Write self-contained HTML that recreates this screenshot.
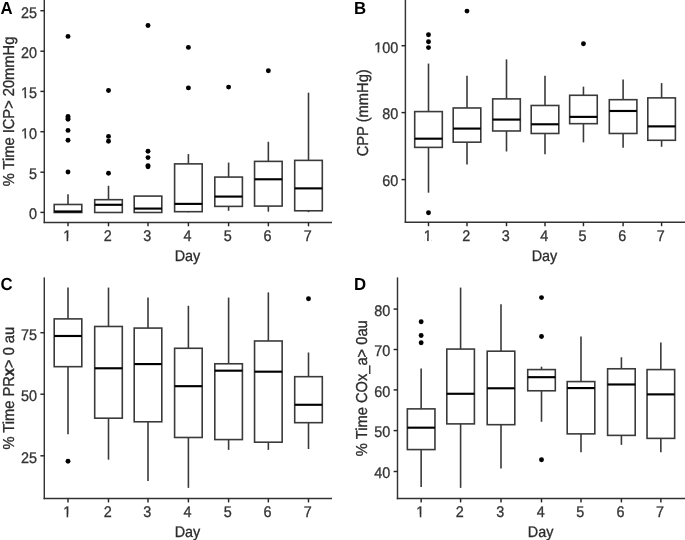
<!DOCTYPE html>
<html><head><meta charset="utf-8"><title>Boxplots</title>
<style>
html,body{margin:0;padding:0;background:#fff;}
body{width:685px;height:540px;overflow:hidden;}
svg{display:block;font-family:"Liberation Sans",sans-serif;text-rendering:geometricPrecision;}
svg{filter:grayscale(1);}
text{stroke-width:0.3px;paint-order:stroke;}
</style></head>
<body>
<svg width="685" height="540" viewBox="0 0 685 540">
<rect width="685" height="540" fill="#fff"/>
<line x1="68" y1="194.18" x2="68" y2="204.48" stroke="#3a3a3a" stroke-width="1.6"/>
<rect x="54.2" y="204.48" width="27.6" height="8" fill="#fff" stroke="#3a3a3a" stroke-width="1.6"/>
<line x1="54.2" y1="211.48" x2="81.8" y2="211.48" stroke="#000" stroke-width="2.15"/>
<circle cx="68" cy="36.38" r="2.45" fill="#000"/>
<circle cx="68" cy="116.48" r="2.45" fill="#000"/>
<circle cx="68" cy="117.88" r="2.45" fill="#000"/>
<circle cx="68" cy="119.18" r="2.45" fill="#000"/>
<circle cx="68" cy="130.38" r="2.45" fill="#000"/>
<circle cx="68" cy="140.28" r="2.45" fill="#000"/>
<circle cx="68" cy="171.98" r="2.45" fill="#000"/>
<line x1="108.5" y1="185.78" x2="108.5" y2="199.68" stroke="#3a3a3a" stroke-width="1.6"/>
<rect x="94.7" y="199.68" width="27.6" height="12.8" fill="#fff" stroke="#3a3a3a" stroke-width="1.6"/>
<line x1="94.7" y1="204.78" x2="122.3" y2="204.78" stroke="#000" stroke-width="2.15"/>
<circle cx="108.5" cy="90.48" r="2.45" fill="#000"/>
<circle cx="108.5" cy="136.38" r="2.45" fill="#000"/>
<circle cx="108.5" cy="141.18" r="2.45" fill="#000"/>
<circle cx="108.5" cy="173.18" r="2.45" fill="#000"/>
<rect x="134.2" y="196.08" width="27.6" height="16.4" fill="#fff" stroke="#3a3a3a" stroke-width="1.6"/>
<line x1="134.2" y1="208.58" x2="161.8" y2="208.58" stroke="#000" stroke-width="2.15"/>
<circle cx="148" cy="25.48" r="2.45" fill="#000"/>
<circle cx="148" cy="151.28" r="2.45" fill="#000"/>
<circle cx="148" cy="157.58" r="2.45" fill="#000"/>
<circle cx="148" cy="165.58" r="2.45" fill="#000"/>
<circle cx="148" cy="166.68" r="2.45" fill="#000"/>
<line x1="188.4" y1="154.08" x2="188.4" y2="163.88" stroke="#3a3a3a" stroke-width="1.6"/>
<line x1="188.4" y1="211.68" x2="188.4" y2="212.28" stroke="#3a3a3a" stroke-width="1.6"/>
<rect x="174.6" y="163.88" width="27.6" height="47.8" fill="#fff" stroke="#3a3a3a" stroke-width="1.6"/>
<line x1="174.6" y1="203.88" x2="202.2" y2="203.88" stroke="#000" stroke-width="2.15"/>
<circle cx="188.4" cy="47.38" r="2.45" fill="#000"/>
<circle cx="188.4" cy="87.88" r="2.45" fill="#000"/>
<line x1="228.6" y1="162.58" x2="228.6" y2="177.08" stroke="#3a3a3a" stroke-width="1.6"/>
<line x1="228.6" y1="206.38" x2="228.6" y2="210.78" stroke="#3a3a3a" stroke-width="1.6"/>
<rect x="214.8" y="177.08" width="27.6" height="29.3" fill="#fff" stroke="#3a3a3a" stroke-width="1.6"/>
<line x1="214.8" y1="196.58" x2="242.4" y2="196.58" stroke="#000" stroke-width="2.15"/>
<circle cx="228.6" cy="87.08" r="2.45" fill="#000"/>
<line x1="268.35" y1="141.78" x2="268.35" y2="161.38" stroke="#3a3a3a" stroke-width="1.6"/>
<line x1="268.35" y1="206.08" x2="268.35" y2="211.68" stroke="#3a3a3a" stroke-width="1.6"/>
<rect x="254.55" y="161.38" width="27.6" height="44.7" fill="#fff" stroke="#3a3a3a" stroke-width="1.6"/>
<line x1="254.55" y1="179.28" x2="282.15" y2="179.28" stroke="#000" stroke-width="2.15"/>
<circle cx="268.35" cy="70.68" r="2.45" fill="#000"/>
<line x1="308.5" y1="92.68" x2="308.5" y2="160.38" stroke="#3a3a3a" stroke-width="1.6"/>
<line x1="308.5" y1="210.78" x2="308.5" y2="212.18" stroke="#3a3a3a" stroke-width="1.6"/>
<rect x="294.7" y="160.38" width="27.6" height="50.4" fill="#fff" stroke="#3a3a3a" stroke-width="1.6"/>
<line x1="294.7" y1="188.38" x2="322.3" y2="188.38" stroke="#000" stroke-width="2.15"/>
<line x1="44.3" y1="0" x2="44.3" y2="223.12" stroke="#333333" stroke-width="1.45"/>
<line x1="43.57" y1="222.4" x2="332" y2="222.4" stroke="#333333" stroke-width="1.45"/>
<line x1="40.4" y1="10.7" x2="44.3" y2="10.7" stroke="#262626" stroke-width="1.45"/>
<g transform="translate(37.1,17.5) scale(1,1.07)"><text text-anchor="end" fill="#333333" stroke="#333333" font-size="14.4">25</text></g>
<line x1="40.4" y1="51.2" x2="44.3" y2="51.2" stroke="#262626" stroke-width="1.45"/>
<g transform="translate(37.1,58) scale(1,1.07)"><text text-anchor="end" fill="#333333" stroke="#333333" font-size="14.4">20</text></g>
<line x1="40.4" y1="91.4" x2="44.3" y2="91.4" stroke="#262626" stroke-width="1.45"/>
<g transform="translate(37.1,98.2) scale(1,1.07)"><text text-anchor="end" fill="#333333" stroke="#333333" font-size="14.4">15</text><rect x="-15.38" y="-3.02" width="7.17" height="4.32" fill="#fff"/><rect x="-12.55" y="-3.16" width="1.58" height="3.16" fill="#333333"/></g>
<line x1="40.4" y1="131.7" x2="44.3" y2="131.7" stroke="#262626" stroke-width="1.45"/>
<g transform="translate(37.1,138.5) scale(1,1.07)"><text text-anchor="end" fill="#333333" stroke="#333333" font-size="14.4">10</text><rect x="-15.38" y="-3.02" width="7.17" height="4.32" fill="#fff"/><rect x="-12.55" y="-3.16" width="1.58" height="3.16" fill="#333333"/></g>
<line x1="40.4" y1="172.2" x2="44.3" y2="172.2" stroke="#262626" stroke-width="1.45"/>
<g transform="translate(37.1,179) scale(1,1.07)"><text text-anchor="end" fill="#333333" stroke="#333333" font-size="14.4">5</text></g>
<line x1="40.4" y1="212.4" x2="44.3" y2="212.4" stroke="#262626" stroke-width="1.45"/>
<g transform="translate(37.1,219.2) scale(1,1.07)"><text text-anchor="end" fill="#333333" stroke="#333333" font-size="14.4">0</text></g>
<line x1="68" y1="222.4" x2="68" y2="226.3" stroke="#262626" stroke-width="1.45"/>
<g transform="translate(67.15,241.2) scale(1,1.07)"><text text-anchor="middle" fill="#333333" stroke="#333333" font-size="14.4">1</text><rect x="-3.37" y="-3.02" width="7.17" height="4.32" fill="#fff"/><rect x="-0.54" y="-3.16" width="1.58" height="3.16" fill="#333333"/></g>
<line x1="108.5" y1="222.4" x2="108.5" y2="226.3" stroke="#262626" stroke-width="1.45"/>
<g transform="translate(107.65,241.2) scale(1,1.07)"><text text-anchor="middle" fill="#333333" stroke="#333333" font-size="14.4">2</text></g>
<line x1="148" y1="222.4" x2="148" y2="226.3" stroke="#262626" stroke-width="1.45"/>
<g transform="translate(147.15,241.2) scale(1,1.07)"><text text-anchor="middle" fill="#333333" stroke="#333333" font-size="14.4">3</text></g>
<line x1="188.4" y1="222.4" x2="188.4" y2="226.3" stroke="#262626" stroke-width="1.45"/>
<g transform="translate(187.55,241.2) scale(1,1.07)"><text text-anchor="middle" fill="#333333" stroke="#333333" font-size="14.4">4</text></g>
<line x1="228.6" y1="222.4" x2="228.6" y2="226.3" stroke="#262626" stroke-width="1.45"/>
<g transform="translate(227.75,241.2) scale(1,1.07)"><text text-anchor="middle" fill="#333333" stroke="#333333" font-size="14.4">5</text></g>
<line x1="268.35" y1="222.4" x2="268.35" y2="226.3" stroke="#262626" stroke-width="1.45"/>
<g transform="translate(267.5,241.2) scale(1,1.07)"><text text-anchor="middle" fill="#333333" stroke="#333333" font-size="14.4">6</text></g>
<line x1="308.5" y1="222.4" x2="308.5" y2="226.3" stroke="#262626" stroke-width="1.45"/>
<g transform="translate(307.65,241.2) scale(1,1.07)"><text text-anchor="middle" fill="#333333" stroke="#333333" font-size="14.4">7</text></g>
<text transform="translate(187.45,260.8) scale(1,1.07)" text-anchor="middle" fill="#2b2b2b" stroke="#2b2b2b" font-size="14.4">Day</text>
<text transform="translate(14.2,111.5) rotate(-90) scale(1.02,1.1)" text-anchor="middle" fill="#2b2b2b" stroke="#2b2b2b" font-size="14.4">% Time ICP&gt; 20mmHg</text>
<text transform="translate(0.5,14.4) scale(1,1.04)" font-weight="bold" fill="#000" font-size="16.8">A</text>
<line x1="428.5" y1="63.58" x2="428.5" y2="111.58" stroke="#3a3a3a" stroke-width="1.6"/>
<line x1="428.5" y1="147.38" x2="428.5" y2="192.68" stroke="#3a3a3a" stroke-width="1.6"/>
<rect x="414.7" y="111.58" width="27.6" height="35.8" fill="#fff" stroke="#3a3a3a" stroke-width="1.6"/>
<line x1="414.7" y1="138.68" x2="442.3" y2="138.68" stroke="#000" stroke-width="2.15"/>
<circle cx="428.5" cy="34.68" r="2.45" fill="#000"/>
<circle cx="428.5" cy="41.78" r="2.45" fill="#000"/>
<circle cx="428.5" cy="47.58" r="2.45" fill="#000"/>
<circle cx="428.5" cy="212.68" r="2.45" fill="#000"/>
<line x1="467" y1="75.68" x2="467" y2="107.98" stroke="#3a3a3a" stroke-width="1.6"/>
<line x1="467" y1="142.18" x2="467" y2="164.48" stroke="#3a3a3a" stroke-width="1.6"/>
<rect x="453.2" y="107.98" width="27.6" height="34.2" fill="#fff" stroke="#3a3a3a" stroke-width="1.6"/>
<line x1="453.2" y1="128.58" x2="480.8" y2="128.58" stroke="#000" stroke-width="2.15"/>
<circle cx="467" cy="11.08" r="2.45" fill="#000"/>
<line x1="506.5" y1="59.38" x2="506.5" y2="98.88" stroke="#3a3a3a" stroke-width="1.6"/>
<line x1="506.5" y1="130.98" x2="506.5" y2="151.48" stroke="#3a3a3a" stroke-width="1.6"/>
<rect x="492.7" y="98.88" width="27.6" height="32.1" fill="#fff" stroke="#3a3a3a" stroke-width="1.6"/>
<line x1="492.7" y1="119.58" x2="520.3" y2="119.58" stroke="#000" stroke-width="2.15"/>
<line x1="545" y1="75.68" x2="545" y2="105.48" stroke="#3a3a3a" stroke-width="1.6"/>
<line x1="545" y1="133.48" x2="545" y2="154.18" stroke="#3a3a3a" stroke-width="1.6"/>
<rect x="531.2" y="105.48" width="27.6" height="28" fill="#fff" stroke="#3a3a3a" stroke-width="1.6"/>
<line x1="531.2" y1="124.28" x2="558.8" y2="124.28" stroke="#000" stroke-width="2.15"/>
<line x1="583.45" y1="86.68" x2="583.45" y2="95.28" stroke="#3a3a3a" stroke-width="1.6"/>
<line x1="583.45" y1="123.68" x2="583.45" y2="142.38" stroke="#3a3a3a" stroke-width="1.6"/>
<rect x="569.65" y="95.28" width="27.6" height="28.4" fill="#fff" stroke="#3a3a3a" stroke-width="1.6"/>
<line x1="569.65" y1="116.88" x2="597.25" y2="116.88" stroke="#000" stroke-width="2.15"/>
<circle cx="583.45" cy="43.68" r="2.45" fill="#000"/>
<line x1="623.1" y1="79.58" x2="623.1" y2="99.68" stroke="#3a3a3a" stroke-width="1.6"/>
<line x1="623.1" y1="133.48" x2="623.1" y2="147.68" stroke="#3a3a3a" stroke-width="1.6"/>
<rect x="609.3" y="99.68" width="27.6" height="33.8" fill="#fff" stroke="#3a3a3a" stroke-width="1.6"/>
<line x1="609.3" y1="110.98" x2="636.9" y2="110.98" stroke="#000" stroke-width="2.15"/>
<line x1="661.6" y1="83.08" x2="661.6" y2="97.88" stroke="#3a3a3a" stroke-width="1.6"/>
<line x1="661.6" y1="140.28" x2="661.6" y2="146.78" stroke="#3a3a3a" stroke-width="1.6"/>
<rect x="647.8" y="97.88" width="27.6" height="42.4" fill="#fff" stroke="#3a3a3a" stroke-width="1.6"/>
<line x1="647.8" y1="126.38" x2="675.4" y2="126.38" stroke="#000" stroke-width="2.15"/>
<line x1="405.4" y1="0" x2="405.4" y2="223.03" stroke="#333333" stroke-width="1.45"/>
<line x1="404.67" y1="222.3" x2="685" y2="222.3" stroke="#333333" stroke-width="1.45"/>
<line x1="401.5" y1="45.7" x2="405.4" y2="45.7" stroke="#262626" stroke-width="1.45"/>
<g transform="translate(398.2,52.5) scale(1,1.07)"><text text-anchor="end" fill="#333333" stroke="#333333" font-size="14.4">100</text><rect x="-23.39" y="-3.02" width="7.17" height="4.32" fill="#fff"/><rect x="-20.56" y="-3.16" width="1.58" height="3.16" fill="#333333"/></g>
<line x1="401.5" y1="112.6" x2="405.4" y2="112.6" stroke="#262626" stroke-width="1.45"/>
<g transform="translate(398.2,119.4) scale(1,1.07)"><text text-anchor="end" fill="#333333" stroke="#333333" font-size="14.4">80</text></g>
<line x1="401.5" y1="179.6" x2="405.4" y2="179.6" stroke="#262626" stroke-width="1.45"/>
<g transform="translate(398.2,186.4) scale(1,1.07)"><text text-anchor="end" fill="#333333" stroke="#333333" font-size="14.4">60</text></g>
<line x1="428.5" y1="222.3" x2="428.5" y2="226.2" stroke="#262626" stroke-width="1.45"/>
<g transform="translate(427.65,241.1) scale(1,1.07)"><text text-anchor="middle" fill="#333333" stroke="#333333" font-size="14.4">1</text><rect x="-3.37" y="-3.02" width="7.17" height="4.32" fill="#fff"/><rect x="-0.54" y="-3.16" width="1.58" height="3.16" fill="#333333"/></g>
<line x1="467" y1="222.3" x2="467" y2="226.2" stroke="#262626" stroke-width="1.45"/>
<g transform="translate(466.15,241.1) scale(1,1.07)"><text text-anchor="middle" fill="#333333" stroke="#333333" font-size="14.4">2</text></g>
<line x1="506.5" y1="222.3" x2="506.5" y2="226.2" stroke="#262626" stroke-width="1.45"/>
<g transform="translate(505.65,241.1) scale(1,1.07)"><text text-anchor="middle" fill="#333333" stroke="#333333" font-size="14.4">3</text></g>
<line x1="545" y1="222.3" x2="545" y2="226.2" stroke="#262626" stroke-width="1.45"/>
<g transform="translate(544.15,241.1) scale(1,1.07)"><text text-anchor="middle" fill="#333333" stroke="#333333" font-size="14.4">4</text></g>
<line x1="583.45" y1="222.3" x2="583.45" y2="226.2" stroke="#262626" stroke-width="1.45"/>
<g transform="translate(582.6,241.1) scale(1,1.07)"><text text-anchor="middle" fill="#333333" stroke="#333333" font-size="14.4">5</text></g>
<line x1="623.1" y1="222.3" x2="623.1" y2="226.2" stroke="#262626" stroke-width="1.45"/>
<g transform="translate(622.25,241.1) scale(1,1.07)"><text text-anchor="middle" fill="#333333" stroke="#333333" font-size="14.4">6</text></g>
<line x1="661.6" y1="222.3" x2="661.6" y2="226.2" stroke="#262626" stroke-width="1.45"/>
<g transform="translate(660.75,241.1) scale(1,1.07)"><text text-anchor="middle" fill="#333333" stroke="#333333" font-size="14.4">7</text></g>
<text transform="translate(544.5,260.7) scale(1,1.07)" text-anchor="middle" fill="#2b2b2b" stroke="#2b2b2b" font-size="14.4">Day</text>
<text transform="translate(368,112.8) rotate(-90) scale(1.02,1.1)" text-anchor="middle" fill="#2b2b2b" stroke="#2b2b2b" font-size="14.4">CPP (mmHg)</text>
<text transform="translate(354,14.4) scale(1,1.04)" font-weight="bold" fill="#000" font-size="16.8">B</text>
<line x1="68" y1="287.58" x2="68" y2="318.88" stroke="#3a3a3a" stroke-width="1.6"/>
<line x1="68" y1="366.68" x2="68" y2="434.18" stroke="#3a3a3a" stroke-width="1.6"/>
<rect x="54.2" y="318.88" width="27.6" height="47.8" fill="#fff" stroke="#3a3a3a" stroke-width="1.6"/>
<line x1="54.2" y1="335.98" x2="81.8" y2="335.98" stroke="#000" stroke-width="2.15"/>
<circle cx="68" cy="461.18" r="2.45" fill="#000"/>
<line x1="108.5" y1="287.58" x2="108.5" y2="326.48" stroke="#3a3a3a" stroke-width="1.6"/>
<line x1="108.5" y1="418.18" x2="108.5" y2="459.68" stroke="#3a3a3a" stroke-width="1.6"/>
<rect x="94.7" y="326.48" width="27.6" height="91.7" fill="#fff" stroke="#3a3a3a" stroke-width="1.6"/>
<line x1="94.7" y1="368.28" x2="122.3" y2="368.28" stroke="#000" stroke-width="2.15"/>
<line x1="148" y1="297.58" x2="148" y2="328.08" stroke="#3a3a3a" stroke-width="1.6"/>
<line x1="148" y1="421.78" x2="148" y2="480.98" stroke="#3a3a3a" stroke-width="1.6"/>
<rect x="134.2" y="328.08" width="27.6" height="93.7" fill="#fff" stroke="#3a3a3a" stroke-width="1.6"/>
<line x1="134.2" y1="364.08" x2="161.8" y2="364.08" stroke="#000" stroke-width="2.15"/>
<line x1="188.4" y1="305.78" x2="188.4" y2="348.28" stroke="#3a3a3a" stroke-width="1.6"/>
<line x1="188.4" y1="437.48" x2="188.4" y2="487.88" stroke="#3a3a3a" stroke-width="1.6"/>
<rect x="174.6" y="348.28" width="27.6" height="89.2" fill="#fff" stroke="#3a3a3a" stroke-width="1.6"/>
<line x1="174.6" y1="386.18" x2="202.2" y2="386.18" stroke="#000" stroke-width="2.15"/>
<line x1="228.6" y1="297.58" x2="228.6" y2="363.78" stroke="#3a3a3a" stroke-width="1.6"/>
<line x1="228.6" y1="439.58" x2="228.6" y2="449.88" stroke="#3a3a3a" stroke-width="1.6"/>
<rect x="214.8" y="363.78" width="27.6" height="75.8" fill="#fff" stroke="#3a3a3a" stroke-width="1.6"/>
<line x1="214.8" y1="370.68" x2="242.4" y2="370.68" stroke="#000" stroke-width="2.15"/>
<line x1="268.35" y1="292.38" x2="268.35" y2="340.98" stroke="#3a3a3a" stroke-width="1.6"/>
<line x1="268.35" y1="442.18" x2="268.35" y2="449.88" stroke="#3a3a3a" stroke-width="1.6"/>
<rect x="254.55" y="340.98" width="27.6" height="101.2" fill="#fff" stroke="#3a3a3a" stroke-width="1.6"/>
<line x1="254.55" y1="371.68" x2="282.15" y2="371.68" stroke="#000" stroke-width="2.15"/>
<line x1="308.5" y1="352.48" x2="308.5" y2="376.68" stroke="#3a3a3a" stroke-width="1.6"/>
<line x1="308.5" y1="422.68" x2="308.5" y2="448.98" stroke="#3a3a3a" stroke-width="1.6"/>
<rect x="294.7" y="376.68" width="27.6" height="46" fill="#fff" stroke="#3a3a3a" stroke-width="1.6"/>
<line x1="294.7" y1="404.78" x2="322.3" y2="404.78" stroke="#000" stroke-width="2.15"/>
<circle cx="308.5" cy="298.68" r="2.45" fill="#000"/>
<line x1="44.3" y1="277.4" x2="44.3" y2="499.23" stroke="#333333" stroke-width="1.45"/>
<line x1="43.57" y1="498.5" x2="332" y2="498.5" stroke="#333333" stroke-width="1.45"/>
<line x1="40.4" y1="332.7" x2="44.3" y2="332.7" stroke="#262626" stroke-width="1.45"/>
<g transform="translate(37.1,339.5) scale(1,1.07)"><text text-anchor="end" fill="#333333" stroke="#333333" font-size="14.4">75</text></g>
<line x1="40.4" y1="394.2" x2="44.3" y2="394.2" stroke="#262626" stroke-width="1.45"/>
<g transform="translate(37.1,401) scale(1,1.07)"><text text-anchor="end" fill="#333333" stroke="#333333" font-size="14.4">50</text></g>
<line x1="40.4" y1="455.8" x2="44.3" y2="455.8" stroke="#262626" stroke-width="1.45"/>
<g transform="translate(37.1,462.6) scale(1,1.07)"><text text-anchor="end" fill="#333333" stroke="#333333" font-size="14.4">25</text></g>
<line x1="68" y1="498.5" x2="68" y2="502.4" stroke="#262626" stroke-width="1.45"/>
<g transform="translate(67.15,517.3) scale(1,1.07)"><text text-anchor="middle" fill="#333333" stroke="#333333" font-size="14.4">1</text><rect x="-3.37" y="-3.02" width="7.17" height="4.32" fill="#fff"/><rect x="-0.54" y="-3.16" width="1.58" height="3.16" fill="#333333"/></g>
<line x1="108.5" y1="498.5" x2="108.5" y2="502.4" stroke="#262626" stroke-width="1.45"/>
<g transform="translate(107.65,517.3) scale(1,1.07)"><text text-anchor="middle" fill="#333333" stroke="#333333" font-size="14.4">2</text></g>
<line x1="148" y1="498.5" x2="148" y2="502.4" stroke="#262626" stroke-width="1.45"/>
<g transform="translate(147.15,517.3) scale(1,1.07)"><text text-anchor="middle" fill="#333333" stroke="#333333" font-size="14.4">3</text></g>
<line x1="188.4" y1="498.5" x2="188.4" y2="502.4" stroke="#262626" stroke-width="1.45"/>
<g transform="translate(187.55,517.3) scale(1,1.07)"><text text-anchor="middle" fill="#333333" stroke="#333333" font-size="14.4">4</text></g>
<line x1="228.6" y1="498.5" x2="228.6" y2="502.4" stroke="#262626" stroke-width="1.45"/>
<g transform="translate(227.75,517.3) scale(1,1.07)"><text text-anchor="middle" fill="#333333" stroke="#333333" font-size="14.4">5</text></g>
<line x1="268.35" y1="498.5" x2="268.35" y2="502.4" stroke="#262626" stroke-width="1.45"/>
<g transform="translate(267.5,517.3) scale(1,1.07)"><text text-anchor="middle" fill="#333333" stroke="#333333" font-size="14.4">6</text></g>
<line x1="308.5" y1="498.5" x2="308.5" y2="502.4" stroke="#262626" stroke-width="1.45"/>
<g transform="translate(307.65,517.3) scale(1,1.07)"><text text-anchor="middle" fill="#333333" stroke="#333333" font-size="14.4">7</text></g>
<text transform="translate(187.45,536.9) scale(1,1.07)" text-anchor="middle" fill="#2b2b2b" stroke="#2b2b2b" font-size="14.4">Day</text>
<text transform="translate(14.4,388.2) rotate(-90) scale(1.02,1.1)" text-anchor="middle" fill="#2b2b2b" stroke="#2b2b2b" font-size="14.4">% Time PR<tspan font-weight="bold">x</tspan>&gt; 0 au</text>
<text transform="translate(0.5,290.4) scale(1,1.04)" font-weight="bold" fill="#000" font-size="16.8">C</text>
<line x1="421.15" y1="368.58" x2="421.15" y2="408.88" stroke="#3a3a3a" stroke-width="1.6"/>
<line x1="421.15" y1="449.58" x2="421.15" y2="486.98" stroke="#3a3a3a" stroke-width="1.6"/>
<rect x="407.35" y="408.88" width="27.6" height="40.7" fill="#fff" stroke="#3a3a3a" stroke-width="1.6"/>
<line x1="407.35" y1="427.68" x2="434.95" y2="427.68" stroke="#000" stroke-width="2.15"/>
<circle cx="421.15" cy="321.78" r="2.45" fill="#000"/>
<circle cx="421.15" cy="335.48" r="2.45" fill="#000"/>
<circle cx="421.15" cy="342.78" r="2.45" fill="#000"/>
<line x1="460.6" y1="287.58" x2="460.6" y2="349.08" stroke="#3a3a3a" stroke-width="1.6"/>
<line x1="460.6" y1="423.88" x2="460.6" y2="487.88" stroke="#3a3a3a" stroke-width="1.6"/>
<rect x="446.8" y="349.08" width="27.6" height="74.8" fill="#fff" stroke="#3a3a3a" stroke-width="1.6"/>
<line x1="446.8" y1="393.78" x2="474.4" y2="393.78" stroke="#000" stroke-width="2.15"/>
<line x1="501" y1="304.18" x2="501" y2="351.18" stroke="#3a3a3a" stroke-width="1.6"/>
<line x1="501" y1="424.68" x2="501" y2="468.58" stroke="#3a3a3a" stroke-width="1.6"/>
<rect x="487.2" y="351.18" width="27.6" height="73.5" fill="#fff" stroke="#3a3a3a" stroke-width="1.6"/>
<line x1="487.2" y1="388.28" x2="514.8" y2="388.28" stroke="#000" stroke-width="2.15"/>
<line x1="541.5" y1="366.68" x2="541.5" y2="369.58" stroke="#3a3a3a" stroke-width="1.6"/>
<line x1="541.5" y1="390.78" x2="541.5" y2="421.78" stroke="#3a3a3a" stroke-width="1.6"/>
<rect x="527.7" y="369.58" width="27.6" height="21.2" fill="#fff" stroke="#3a3a3a" stroke-width="1.6"/>
<line x1="527.7" y1="377.18" x2="555.3" y2="377.18" stroke="#000" stroke-width="2.15"/>
<circle cx="541.5" cy="297.58" r="2.45" fill="#000"/>
<circle cx="541.5" cy="336.48" r="2.45" fill="#000"/>
<circle cx="541.5" cy="459.68" r="2.45" fill="#000"/>
<line x1="581" y1="336.48" x2="581" y2="381.58" stroke="#3a3a3a" stroke-width="1.6"/>
<line x1="581" y1="433.88" x2="581" y2="452.28" stroke="#3a3a3a" stroke-width="1.6"/>
<rect x="567.2" y="381.58" width="27.6" height="52.3" fill="#fff" stroke="#3a3a3a" stroke-width="1.6"/>
<line x1="567.2" y1="388.08" x2="594.8" y2="388.08" stroke="#000" stroke-width="2.15"/>
<line x1="621.4" y1="357.28" x2="621.4" y2="368.78" stroke="#3a3a3a" stroke-width="1.6"/>
<line x1="621.4" y1="435.38" x2="621.4" y2="444.88" stroke="#3a3a3a" stroke-width="1.6"/>
<rect x="607.6" y="368.78" width="27.6" height="66.6" fill="#fff" stroke="#3a3a3a" stroke-width="1.6"/>
<line x1="607.6" y1="384.48" x2="635.2" y2="384.48" stroke="#000" stroke-width="2.15"/>
<line x1="660.85" y1="342.58" x2="660.85" y2="369.58" stroke="#3a3a3a" stroke-width="1.6"/>
<line x1="660.85" y1="438.38" x2="660.85" y2="452.28" stroke="#3a3a3a" stroke-width="1.6"/>
<rect x="647.05" y="369.58" width="27.6" height="68.8" fill="#fff" stroke="#3a3a3a" stroke-width="1.6"/>
<line x1="647.05" y1="394.38" x2="674.65" y2="394.38" stroke="#000" stroke-width="2.15"/>
<line x1="397.5" y1="277.4" x2="397.5" y2="499.23" stroke="#333333" stroke-width="1.45"/>
<line x1="396.77" y1="498.5" x2="685" y2="498.5" stroke="#333333" stroke-width="1.45"/>
<line x1="393.6" y1="309.1" x2="397.5" y2="309.1" stroke="#262626" stroke-width="1.45"/>
<g transform="translate(390.3,315.9) scale(1,1.07)"><text text-anchor="end" fill="#333333" stroke="#333333" font-size="14.4">80</text></g>
<line x1="393.6" y1="349.5" x2="397.5" y2="349.5" stroke="#262626" stroke-width="1.45"/>
<g transform="translate(390.3,356.3) scale(1,1.07)"><text text-anchor="end" fill="#333333" stroke="#333333" font-size="14.4">70</text></g>
<line x1="393.6" y1="389.9" x2="397.5" y2="389.9" stroke="#262626" stroke-width="1.45"/>
<g transform="translate(390.3,396.7) scale(1,1.07)"><text text-anchor="end" fill="#333333" stroke="#333333" font-size="14.4">60</text></g>
<line x1="393.6" y1="430.6" x2="397.5" y2="430.6" stroke="#262626" stroke-width="1.45"/>
<g transform="translate(390.3,437.4) scale(1,1.07)"><text text-anchor="end" fill="#333333" stroke="#333333" font-size="14.4">50</text></g>
<line x1="393.6" y1="471.5" x2="397.5" y2="471.5" stroke="#262626" stroke-width="1.45"/>
<g transform="translate(390.3,478.3) scale(1,1.07)"><text text-anchor="end" fill="#333333" stroke="#333333" font-size="14.4">40</text></g>
<line x1="421.15" y1="498.5" x2="421.15" y2="502.4" stroke="#262626" stroke-width="1.45"/>
<g transform="translate(420.3,517.3) scale(1,1.07)"><text text-anchor="middle" fill="#333333" stroke="#333333" font-size="14.4">1</text><rect x="-3.37" y="-3.02" width="7.17" height="4.32" fill="#fff"/><rect x="-0.54" y="-3.16" width="1.58" height="3.16" fill="#333333"/></g>
<line x1="460.6" y1="498.5" x2="460.6" y2="502.4" stroke="#262626" stroke-width="1.45"/>
<g transform="translate(459.75,517.3) scale(1,1.07)"><text text-anchor="middle" fill="#333333" stroke="#333333" font-size="14.4">2</text></g>
<line x1="501" y1="498.5" x2="501" y2="502.4" stroke="#262626" stroke-width="1.45"/>
<g transform="translate(500.15,517.3) scale(1,1.07)"><text text-anchor="middle" fill="#333333" stroke="#333333" font-size="14.4">3</text></g>
<line x1="541.5" y1="498.5" x2="541.5" y2="502.4" stroke="#262626" stroke-width="1.45"/>
<g transform="translate(540.65,517.3) scale(1,1.07)"><text text-anchor="middle" fill="#333333" stroke="#333333" font-size="14.4">4</text></g>
<line x1="581" y1="498.5" x2="581" y2="502.4" stroke="#262626" stroke-width="1.45"/>
<g transform="translate(580.15,517.3) scale(1,1.07)"><text text-anchor="middle" fill="#333333" stroke="#333333" font-size="14.4">5</text></g>
<line x1="621.4" y1="498.5" x2="621.4" y2="502.4" stroke="#262626" stroke-width="1.45"/>
<g transform="translate(620.55,517.3) scale(1,1.07)"><text text-anchor="middle" fill="#333333" stroke="#333333" font-size="14.4">6</text></g>
<line x1="660.85" y1="498.5" x2="660.85" y2="502.4" stroke="#262626" stroke-width="1.45"/>
<g transform="translate(660,517.3) scale(1,1.07)"><text text-anchor="middle" fill="#333333" stroke="#333333" font-size="14.4">7</text></g>
<text transform="translate(540.55,536.9) scale(1,1.07)" text-anchor="middle" fill="#2b2b2b" stroke="#2b2b2b" font-size="14.4">Day</text>
<text transform="translate(367,388.2) rotate(-90) scale(1.02,1.1)" text-anchor="middle" fill="#2b2b2b" stroke="#2b2b2b" font-size="14.4">% Time COx_a&gt; 0au</text>
<text transform="translate(354,290.4) scale(1,1.04)" font-weight="bold" fill="#000" font-size="16.8">D</text>
</svg>
</body></html>
